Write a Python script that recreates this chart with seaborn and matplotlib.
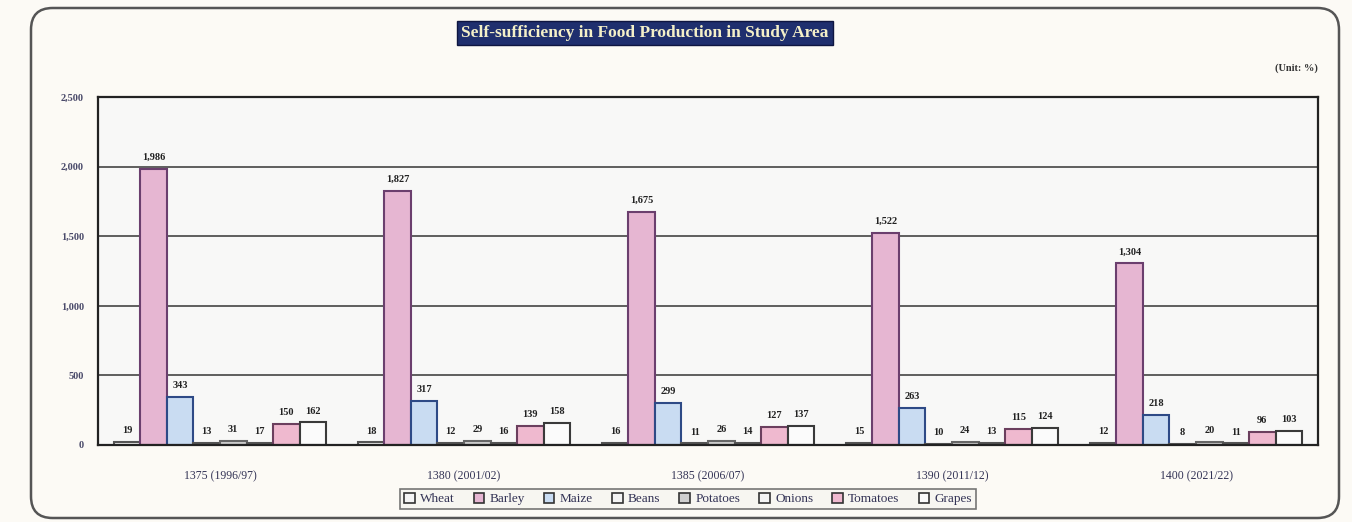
import pandas as pd
import seaborn as sns
import matplotlib.pyplot as plt
from matplotlib.patches import FancyBboxPatch
from matplotlib.ticker import FuncFormatter

# data
years = ["1375 (1996/97)", "1380 (2001/02)", "1385 (2006/07)", "1390 (2011/12)", "1400 (2021/22)"]
crops = ["Wheat", "Barley", "Maize", "Beans", "Potatoes", "Onions", "Tomatoes", "Grapes"]
wheat = [19, 18, 16, 15, 12]
barley = [1986, 1827, 1675, 1522, 1304]
maize = [343, 317, 299, 263, 218]
beans = [13, 12, 11, 10, 8]
potatoes = [31, 29, 26, 24, 20]
onions = [17, 16, 14, 13, 11]
tomatoes = [150, 139, 127, 115, 96]
grapes = [162, 158, 137, 124, 103]

values = [wheat, barley, maize, beans, potatoes, onions, tomatoes, grapes]
rows = []
for crop, vals in zip(crops, values):
  for year, v in zip(years, vals):
    rows.append({"Year": year, "Crop": crop, "Value": v})
df = pd.DataFrame(rows)

fill = ["#f4f4f4", "#e6b6d2", "#c9dcf2", "#f4f4f4", "#cfcfcf", "#f4f4f4", "#efb9cf", "#fbfbfb"]
edges = ["#555555", "#6b3f6e", "#2e4a86", "#555555", "#666666", "#555555", "#6b3f5e", "#3a3a3a"]

sns.set_style("white")
plt.rcParams["font.family"] = ["Liberation Serif", "DejaVu Serif"]

fig = plt.figure(figsize=(13.52, 5.22), dpi=100, facecolor="#fcfaf5")
ax = fig.add_axes([98 / 1352, 1 - 445 / 522, 1220 / 1352, 348 / 522])
ax.set_facecolor("#f8f8f7")

sns.barplot(data=df, x="Year", y="Value", hue="Crop", hue_order=crops,
            palette=fill, width=0.87, ax=ax, legend=False, linewidth=1.5,
            saturation=1)

for cont, ec in zip(ax.containers, edges):
  for bar in cont:
    bar.set_edgecolor(ec)
  ax.bar_label(cont, labels=[f"{b.get_height():,.0f}" for b in cont],
               padding=5, fontsize=7.5, fontweight="bold", color="#222222")

ax.set_ylim(0, 2500)
ax.set_yticks(range(0, 2501, 500))
ax.yaxis.set_major_formatter(FuncFormatter(lambda v, p: f"{v:,.0f}"))
ax.grid(axis="y", color="#444444", linewidth=1.2)
ax.set_axisbelow(True)
ax.tick_params(axis="y", labelsize=7.5, colors="#4a4a6a", length=0, pad=10)
ax.tick_params(axis="x", labelsize=8.5, colors="#333355", length=0, pad=18)
for lab in ax.get_yticklabels():
  lab.set_fontweight("bold")
for s in ax.spines.values():
  s.set_color("#222222")
  s.set_linewidth(1.6)
ax.set_xlabel("")
ax.set_ylabel("")
ax.set_xlim(-0.5, 4.5)

# legend
handles = [plt.Rectangle((0, 0), 1, 1, facecolor=f, edgecolor="#333333", linewidth=1.2)
           for f in fill]
leg = fig.legend(handles, crops, loc="center", bbox_to_anchor=(688 / 1352, 1 - 499 / 522),
                 ncol=8, fontsize=9.5, frameon=True, fancybox=False, handlelength=0.8,
                 handleheight=0.8, handletextpad=0.4, columnspacing=1.45,
                 borderpad=0.3, labelcolor="#333355")
leg.get_frame().set_edgecolor("#555555")
leg.get_frame().set_linewidth(1.2)
leg.get_frame().set_facecolor("#f6f5f0")

# title box and unit
fig.text(645 / 1352, 1 - 33 / 522, "Self-sufficiency in Food Production in Study Area",
         ha="center", va="center", fontsize=12.5, fontweight="bold", color="#f4f0c8",
         bbox=dict(boxstyle="square,pad=0.22", facecolor="#1f2f6e", edgecolor="#0e1540"))
fig.text(1318 / 1352, 1 - 68 / 522, "(Unit: %)", ha="right", va="center",
         fontsize=7.5, fontweight="bold", color="#333333")

# outer rounded frame
frame = FancyBboxPatch((31 / 1352, 4 / 522), 1308 / 1352, 510 / 522,
                       boxstyle="round,pad=0,rounding_size=0.016",
                       transform=fig.transFigure, facecolor="none",
                       edgecolor="#555555", linewidth=1.8, mutation_aspect=1352 / 522)
fig.patches.append(frame)

fig.savefig("out.png", dpi=100, facecolor=fig.get_facecolor())
